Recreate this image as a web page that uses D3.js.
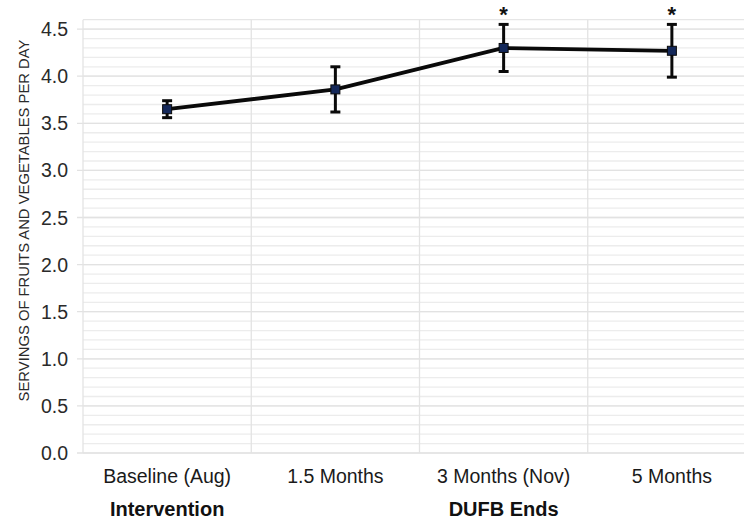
<!DOCTYPE html>
<html>
<head>
<meta charset="utf-8">
<script src="https://cdn.jsdelivr.net/npm/d3@7"></script>
<style>
  html, body { margin: 0; padding: 0; background: #fff; }
  svg { display: block; }
  text { font-family: "Liberation Sans", Arial, Helvetica, sans-serif; }
</style>
</head>
<body>
<svg id="chart" width="744" height="523"></svg>
<script>
// ---- data ----
const categories = ["Baseline (Aug)", "1.5 Months", "3 Months (Nov)", "5 Months"];
const means      = [3.65, 3.86, 4.30, 4.27];
const errors     = [0.09, 0.24, 0.25, 0.28];
const significant = [false, false, true, true];
const phaseLabels = ["Intervention", "", "DUFB Ends", ""];
const yTicks = [0.0, 0.5, 1.0, 1.5, 2.0, 2.5, 3.0, 3.5, 4.0, 4.5];
const yMinorTicks = d3.range(0, 46).map(i => i / 10);
const yTitle = "SERVINGS OF FRUITS AND VEGETABLES PER DAY";

// ---- layout ----
const svg = d3.select("#chart");
const plotLeft = 83, plotRight = 756, plotTop = 19.7, plotBottom = 453;

const x = d3.scaleBand().domain(categories).range([plotLeft, plotRight]).padding(0);
const y = d3.scaleLinear().domain([0, 4.6]).range([plotBottom, plotTop]);
const cx = c => x(c) + x.bandwidth() / 2;

// minor grid
svg.append("g").selectAll("line").data(yMinorTicks).join("line")
  .attr("x1", plotLeft).attr("x2", plotRight)
  .attr("y1", d => y(d)).attr("y2", d => y(d))
  .attr("stroke", "#ececec").attr("stroke-width", 1.3);

// major grid + tick marks
svg.append("g").selectAll("line").data(yTicks).join("line")
  .attr("x1", plotLeft - 6).attr("x2", plotRight)
  .attr("y1", d => y(d)).attr("y2", d => y(d))
  .attr("stroke", "#e2e2e2").attr("stroke-width", 1.3);

// top border line
svg.append("line").attr("x1", plotLeft).attr("x2", plotRight)
  .attr("y1", y(4.6)).attr("y2", y(4.6))
  .attr("stroke", "#e6e6e6").attr("stroke-width", 1.3);

// vertical grid at category boundaries
const bounds = categories.map(c => x(c)).concat([x(categories[categories.length - 1]) + x.bandwidth()]);
svg.append("g").selectAll("line").data(bounds).join("line")
  .attr("x1", d => d).attr("x2", d => d)
  .attr("y1", y(4.6)).attr("y2", y(0))
  .attr("stroke", "#e3e3e3").attr("stroke-width", 1.3);

// y tick labels
svg.append("g").selectAll("text").data(yTicks).join("text")
  .attr("x", 68).attr("y", d => y(d))
  .attr("dy", "0.36em")
  .attr("text-anchor", "end")
  .attr("font-size", 19.5)
  .attr("fill", "#2a2a2a")
  .text(d => d.toFixed(1));

// y axis title
svg.append("text")
  .attr("transform", `translate(29,${(35 + 406) / 2}) rotate(-90)`)
  .attr("text-anchor", "middle")
  .attr("font-size", 14.8)
  .attr("fill", "#2a2a2a")
  .text(yTitle);

// x category labels
svg.append("g").selectAll("text").data(categories).join("text")
  .attr("x", d => cx(d)).attr("y", 483)
  .attr("text-anchor", "middle")
  .attr("font-size", 19.5)
  .attr("fill", "#1a1a1a")
  .text(d => d);

// phase labels
svg.append("g").selectAll("text").data(categories.map((c, i) => ({c, t: phaseLabels[i]})).filter(d => d.t)).join("text")
  .attr("x", d => cx(d.c)).attr("y", 516)
  .attr("text-anchor", "middle")
  .attr("font-size", 20)
  .attr("font-weight", "bold")
  .attr("fill", "#111")
  .text(d => d.t);

const pts = categories.map((c, i) => ({c, m: means[i], e: errors[i], s: significant[i]}));

// line
svg.append("path").datum(pts)
  .attr("d", d3.line().x(d => cx(d.c)).y(d => y(d.m)))
  .attr("fill", "none").attr("stroke", "#0a0a0a").attr("stroke-width", 3.8)
  .attr("stroke-linejoin", "round");

// error bars
const eb = svg.append("g").attr("stroke", "#0a0a0a").attr("stroke-width", 3);
eb.selectAll(".v").data(pts).join("line").attr("class", "v")
  .attr("x1", d => cx(d.c)).attr("x2", d => cx(d.c))
  .attr("y1", d => y(d.m - d.e)).attr("y2", d => y(d.m + d.e));
eb.selectAll(".t").data(pts).join("line").attr("class", "t")
  .attr("x1", d => cx(d.c) - 5).attr("x2", d => cx(d.c) + 5)
  .attr("y1", d => y(d.m + d.e)).attr("y2", d => y(d.m + d.e));
eb.selectAll(".b").data(pts).join("line").attr("class", "b")
  .attr("x1", d => cx(d.c) - 5).attr("x2", d => cx(d.c) + 5)
  .attr("y1", d => y(d.m - d.e)).attr("y2", d => y(d.m - d.e));

// markers
svg.append("g").selectAll("rect").data(pts).join("rect")
  .attr("x", d => cx(d.c) - 4.5).attr("y", d => y(d.m) - 4.5)
  .attr("width", 9).attr("height", 9)
  .attr("fill", "#14285a").attr("stroke", "#0a0a0a").attr("stroke-width", 1);

// significance asterisks
svg.append("g").selectAll("text").data(pts.filter(d => d.s)).join("text")
  .attr("x", d => cx(d.c)).attr("y", d => y(d.m + d.e) - 2)
  .attr("text-anchor", "middle")
  .attr("font-size", 22).attr("font-weight", "bold")
  .attr("fill", "#111")
  .text("*");
</script>
</body>
</html>
